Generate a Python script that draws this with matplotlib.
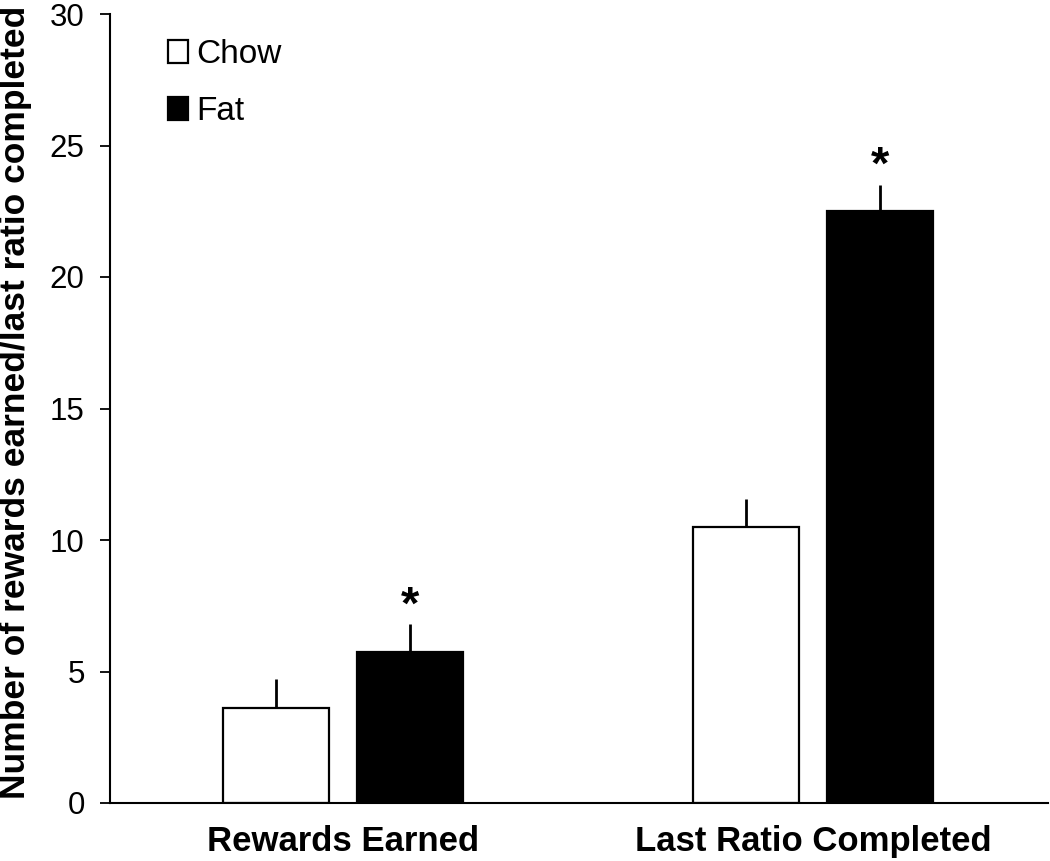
import matplotlib
matplotlib.use("Agg")
import matplotlib.pyplot as plt
import numpy as np

plt.rcParams['font.family'] = ['Liberation Sans', 'DejaVu Sans']

categories = ["Rewards Earned", "Last Ratio Completed"]
chow_mean = [3.6, 10.5]
chow_sem = [1.1, 1.05]
fat_mean = [5.75, 22.5]
fat_sem = [1.05, 1.0]
fat_sig = [True, True]
yticks = [0, 5, 10, 15, 20, 25, 30]

fig = plt.figure(figsize=(10.5, 8.61), dpi=100)
ax = fig.add_axes([110/1050, 1-803/861, (1048-110)/1050, (803-14)/861])

x = np.arange(len(categories))
w = 0.2255
off = 0.1426
b1 = ax.bar(x - off, chow_mean, w, color='white', edgecolor='black', linewidth=1.6, label='Chow', zorder=2)
b2 = ax.bar(x + off, fat_mean, w, color='black', edgecolor='black', linewidth=1.6, label='Fat', zorder=2)
ax.errorbar(x - off, chow_mean, yerr=[np.zeros(len(x)), chow_sem], fmt='none', ecolor='black', elinewidth=2, capsize=0, zorder=1)
ax.errorbar(x + off, fat_mean, yerr=[np.zeros(len(x)), fat_sem], fmt='none', ecolor='black', elinewidth=2, capsize=0, zorder=1)

for xi, m, s, sig in zip(x + off, fat_mean, fat_sem, fat_sig):
    if sig:
        ax.annotate('*', (xi, m + s), xytext=(0, -3), textcoords='offset points',
                    ha='center', va='bottom', fontsize=34, fontweight='bold')

ax.set_xlim(-0.496, 1.5)
ax.set_ylim(0, 30)
ax.set_yticks(yticks)
ax.set_yticklabels([str(t) for t in yticks], fontsize=22.5)
ax.set_xticks(x)
ax.set_xticklabels(categories, fontsize=25, fontweight='bold')
ax.tick_params(axis='x', length=0, pad=16)
ax.tick_params(axis='y', length=7.2, width=1.3, direction='out', pad=11)
for s in ['top', 'right']:
    ax.spines[s].set_visible(False)
ax.spines['left'].set_linewidth(1.5)
ax.spines['bottom'].set_linewidth(1.5)

ax.set_ylabel('Number of rewards earned/last ratio completed', fontsize=25.5, fontweight='bold')
ax.yaxis.set_label_coords(-0.083, 0.508)

ax.legend(handles=[b1, b2], loc='upper left', bbox_to_anchor=(0.0618, 0.968), frameon=False,
          fontsize=24, handlelength=0.6, handleheight=0.65, handletextpad=0.25,
          labelspacing=0.78, borderpad=0, borderaxespad=0)

fig.savefig('out.png', dpi=100)
